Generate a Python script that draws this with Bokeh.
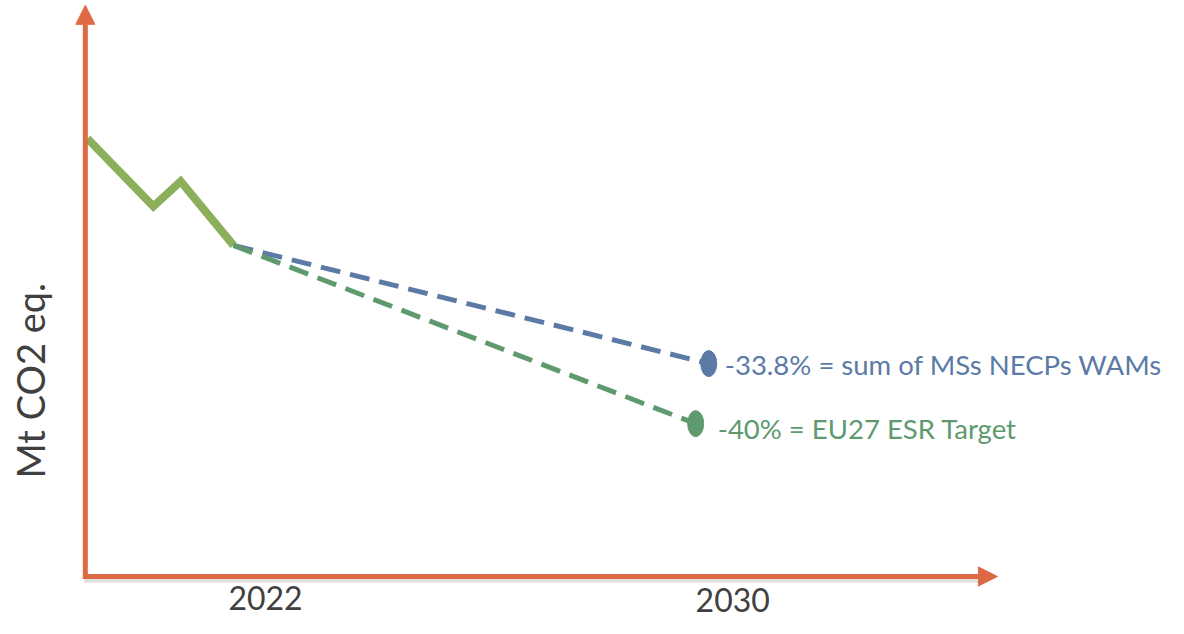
from bokeh.plotting import figure
from bokeh.models import Range1d, Arrow, NormalHead
from bokeh.core.properties import value
from bokeh.embed import file_html
from bokeh.resources import INLINE

# ---- data (schematic index, start = 100) ----
hist_years = [2019.54, 2020.65, 2021.11, 2022.0]
hist_values = [100.0, 84.5, 90.2, 75.6]
proj_start_year = 2022.0
proj_start_value = 75.6
wam_year, wam_value = 2030.0, 48.6
esr_year, esr_value = 2029.78, 34.9
proj_labels = ["-33.8% = sum of MSs NECPs WAMs", "-40% = EU27 ESR Target"]
tick_years = [2022, 2030]
tick_labels = ["2022", "2030"]
y_label = "Mt CO2 eq."

# ---- styles ----
AXIS_C = "#DD6A45"
GREEN = "#8BAF5A"
BLUE = "#5B7BA6"
DGREEN = "#5E9A6E"
TXT = "#404040"
FONT = value("Lato")

W, H = 1168, 618
p = figure(width=W, height=H, output_backend="svg", toolbar_location=None,
           x_range=Range1d(2018.077, 2037.74), y_range=Range1d(-9.59, 131.5),
           min_border=0, min_border_left=0, min_border_right=0,
           min_border_top=0, min_border_bottom=0)
p.axis.visible = False
p.grid.visible = False
p.outline_line_color = None
p.background_fill_color = "white"
p.border_fill_color = "white"

x0 = hist_years[0]
xa = x0 - 0.035  # axis sits just left of the first point
x_tip = 2034.86
y_tip = 130.4

# soft shadow under the x axis
p.line([xa - 0.02, x_tip - 0.3], [-1.0, -1.0], line_color="#000000",
       line_alpha=0.12, line_width=4)

# axes with arrow heads
p.add_layout(Arrow(x_start=xa, y_start=-0.55, x_end=xa, y_end=y_tip,
                   line_color=AXIS_C, line_width=5,
                   end=NormalHead(size=19, fill_color=AXIS_C, line_color=AXIS_C)))
p.add_layout(Arrow(x_start=xa - 0.04, y_start=0, x_end=x_tip, y_end=0,
                   line_color=AXIS_C, line_width=5,
                   end=NormalHead(size=19, fill_color=AXIS_C, line_color=AXIS_C)))

# historical line
p.line(hist_years, hist_values, line_color=GREEN, line_width=8, line_join="miter")

# projections
p.line([proj_start_year, wam_year], [proj_start_value, wam_value],
       line_color=BLUE, line_width=5, line_dash="20 10")
p.line([proj_start_year, esr_year], [proj_start_value, esr_value],
       line_color=DGREEN, line_width=5, line_dash="20 10")
p.ellipse([wam_year], [wam_value], width=16, height=26, width_units="screen",
          height_units="screen", fill_color=BLUE, line_color=BLUE)
p.ellipse([esr_year], [esr_value], width=16, height=26, width_units="screen",
          height_units="screen", fill_color=DGREEN, line_color=DGREEN)

p.text([wam_year], [wam_value], text=[proj_labels[0]], x_offset=16, y_offset=1,
       text_color=BLUE, text_font=FONT, text_font_size="27.5px",
       text_baseline="middle", text_align="left")
p.text([esr_year], [esr_value], text=[proj_labels[1]], x_offset=22, y_offset=5,
       text_color=DGREEN, text_font=FONT, text_font_size="27.5px",
       text_baseline="middle", text_align="left")

# tick labels
p.text([tick_years[0]], [0], text=[tick_labels[0]], x_offset=32, y_offset=34,
       text_color=TXT, text_font=FONT, text_font_size="32px",
       text_baseline="bottom", text_align="center")
p.text([tick_years[1]], [0], text=[tick_labels[1]], x_offset=24, y_offset=36,
       text_color=TXT, text_font=FONT, text_font_size="32px",
       text_baseline="bottom", text_align="center")

# y label
p.text([x0], [44.7], text=[y_label], x_offset=-57, angle=1.5708,
       text_color=TXT, text_font=FONT, text_font_size="38px",
       text_baseline="middle", text_align="center")

open("out.html", "w").write(file_html(p, INLINE))
